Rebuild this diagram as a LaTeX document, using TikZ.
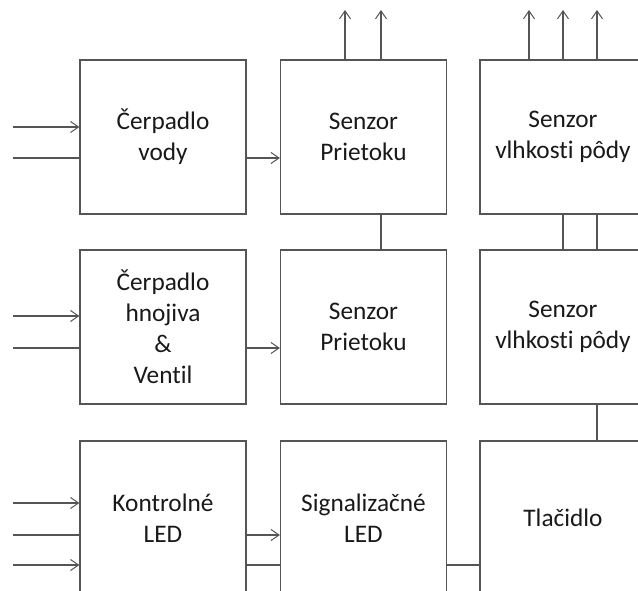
\documentclass[tikz,border=0pt]{standalone}
\usepackage{fontspec}
\setmainfont{Carlito}[Ligatures={NoCommon}]
\usetikzlibrary{arrows.meta}
\definecolor{ln}{RGB}{85,85,85}
\begin{document}
\begin{tikzpicture}[x=1pt,y=-1pt,
  blk/.style={draw=ln,line width=1.2pt,rectangle,minimum width=166pt,minimum height=154pt,inner sep=0pt,align=center,font=\fontsize{25.3}{31}\selectfont,text=black!90},
  wire/.style={draw=ln,line width=1.1pt},
  arr/.style={wire,-{Straight Barb[length=8pt,width=11pt,line width=1pt]}}]
\useasboundingbox (0,0) rectangle (638,591);
\clip (0,0) rectangle (638,591);
% boxes
\node[blk] (p1) at (163,137) {Čerpadlo\\vody};
\node[blk] (s1) at (363.5,137) {Senzor\\Prietoku};
\node[blk] (v1) at (563,137) {Senzor\\vlhkosti pôdy};
\node[blk] (p2) at (163,327) {Čerpadlo\\hnojiva\\\&\\Ventil};
\node[blk] (s2) at (363.5,327) {Senzor\\Prietoku};
\node[blk] (v2) at (563,327) {Senzor\\vlhkosti pôdy};
\node[blk] (k3) at (163,518) {Kontrolné\\LED};
\node[blk] (g3) at (363.5,518) {Signalizačné\\LED};
\node[blk] (t3) at (563,518) {Tlačidlo};
% left input ends
\coordinate (a1) at (13,127);
\coordinate (b1) at (13,158);
\coordinate (a2) at (13,316);
\coordinate (b2) at (13,348);
\coordinate (a3) at (13,503);
\coordinate (b3) at (13,535);
\coordinate (c3) at (13,565);
\draw[arr] (a1) -- (a1 -| p1.west);
\draw[wire] (b1) -- (b1 -| p1.west);
\draw[arr] (a2) -- (a2 -| p2.west);
\draw[wire] (b2) -- (b2 -| p2.west);
\draw[arr] (a3) -- (a3 -| k3.west);
\draw[wire] (b3) -- (b3 -| k3.west);
\draw[arr] (c3) -- (c3 -| k3.west);
% horizontal links
\draw[arr] (b1 -| p1.east) -- (b1 -| s1.west);
\draw[arr] (b2 -| p2.east) -- (b2 -| s2.west);
\draw[arr] (b3 -| k3.east) -- (b3 -| g3.west);
\draw[wire] (c3 -| k3.east) -- (c3 -| g3.west);
\draw[wire] (c3 -| g3.east) -- (c3 -| t3.west);
% top outputs
\coordinate (o1) at (345,10);
\coordinate (o2) at (381,10);
\coordinate (o3) at (529,10);
\coordinate (o4) at (563,10);
\coordinate (o5) at (597,10);
\foreach \o in {o1,o2} \draw[arr] (\o |- s1.north) -- (\o);
\foreach \o in {o3,o4,o5} \draw[arr] (\o |- v1.north) -- (\o);
% vertical links
\draw[wire] (o2 |- s1.south) -- (o2 |- s2.north);
\draw[wire] (o4 |- v1.south) -- (o4 |- v2.north);
\draw[wire] (o5 |- v1.south) -- (o5 |- v2.north);
\draw[wire] (o5 |- v2.south) -- (o5 |- t3.north);
\end{tikzpicture}
\end{document}
